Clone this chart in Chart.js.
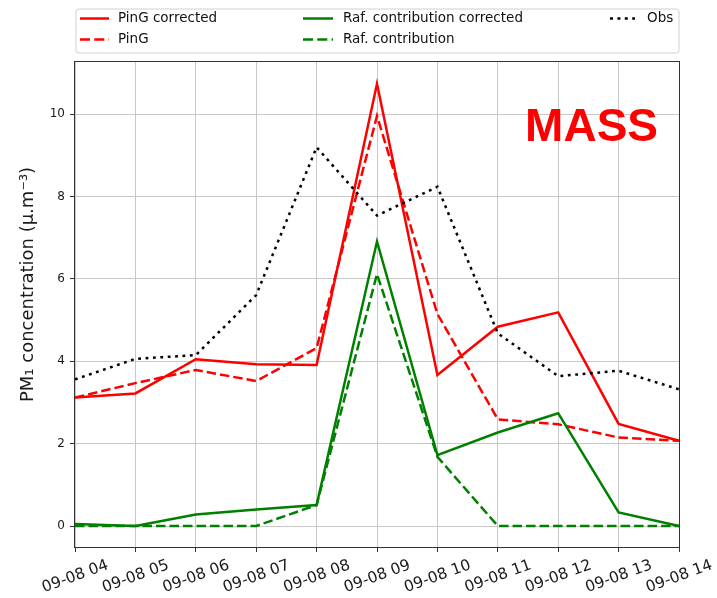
<!DOCTYPE html>
<html><head><meta charset="utf-8">
<script src="https://cdn.jsdelivr.net/npm/chart.js@4"></script>
<style>html,body{margin:0;padding:0;background:#fff}#wrap{width:717px;height:598px}</style>
</head><body><div id="wrap"><canvas id="c" width="717" height="598"></canvas></div>
<script>
const categories = ["09-08 04","09-08 05","09-08 06","09-08 07","09-08 08","09-08 09","09-08 10","09-08 11","09-08 12","09-08 13","09-08 14"];
const yTickValues = [0, 2, 4, 6, 8, 10];
const pingCorrected = [3.12, 3.22, 4.05, 3.93, 3.91, 10.74, 3.67, 4.84, 5.19, 2.48, 2.07];
const ping = [3.12, 3.47, 3.79, 3.52, 4.32, 9.96, 5.15, 2.59, 2.47, 2.15, 2.07];
const rafCorrected = [0.05, 0.0, 0.28, 0.40, 0.51, 6.91, 1.72, 2.27, 2.74, 0.33, 0.0];
const raf = [0.0, 0.0, 0.0, 0.0, 0.51, 6.12, 1.68, 0.0, 0.0, 0.0, 0.0];
const obs = [3.56, 4.06, 4.15, 5.61, 9.20, 7.54, 8.24, 4.68, 3.64, 3.77, 3.32];
const seriesLabels = ["PinG corrected", "PinG", "Raf. contribution corrected", "Raf. contribution", "Obs"];
const yTitle = "PM\u2081 concentration (\u03bc.m\u207b\u00b3)";
const annotationText = "MASS";

Chart.defaults.font.family = '"DejaVu Sans", sans-serif';

const RED = '#ff0000', GREEN = '#008000', BLACK = '#000000';
const DASH = [9.5, 4], DOT = [2.8, 4.6];

const customPlugin = {
  id: 'custom',
  afterDatasetsDraw(chart) {
    const ctx = chart.ctx, a = chart.chartArea;
    ctx.save();
    ctx.strokeStyle = '#333';
    ctx.lineWidth = 1;
    ctx.strokeRect(Math.round(a.left) - 0.5, Math.round(a.top) - 0.5, Math.round(a.right - a.left) + 1, Math.round(a.bottom - a.top) + 1);
    ctx.fillStyle = RED;
    ctx.font = 'bold 46px "Liberation Sans", Arial, sans-serif';
    ctx.textAlign = 'right';
    ctx.textBaseline = 'alphabetic';
    ctx.fillText(annotationText, a.right - 21, a.top + 79);
    ctx.restore();
  },
  afterDraw(chart) {
    const ctx = chart.ctx;
    ctx.save();
    const bx = 76, by = 9, bw = 603, bh = 44, r = 3;
    ctx.beginPath();
    ctx.moveTo(bx + r, by);
    ctx.arcTo(bx + bw, by, bx + bw, by + bh, r);
    ctx.arcTo(bx + bw, by + bh, bx, by + bh, r);
    ctx.arcTo(bx, by + bh, bx, by, r);
    ctx.arcTo(bx, by, bx + bw, by, r);
    ctx.closePath();
    ctx.fillStyle = 'rgba(255,255,255,0.8)';
    ctx.fill();
    ctx.strokeStyle = '#d0d0d0';
    ctx.lineWidth = 1;
    ctx.stroke();
    const slots = [
      {x: 80, len: 29, tx: 118, y: 18.5},
      {x: 80, len: 29, tx: 118, y: 39.5},
      {x: 303, len: 30, tx: 343, y: 18.5},
      {x: 303, len: 30, tx: 343, y: 39.5},
      {x: 610, len: 25, tx: 647, y: 18.5}
    ];
    ctx.font = '13.5px "DejaVu Sans", sans-serif';
    ctx.textBaseline = 'middle';
    ctx.textAlign = 'left';
    chart.data.datasets.forEach((ds, i) => {
      const s = slots[i];
      ctx.beginPath();
      ctx.setLineDash(ds.borderDash === DASH ? [10, 4.3] : (ds.borderDash === DOT ? [3, 4.4] : []));
      ctx.strokeStyle = ds.borderColor;
      ctx.lineWidth = 2.5;
      ctx.moveTo(s.x, s.y);
      ctx.lineTo(s.x + s.len, s.y);
      ctx.stroke();
      ctx.setLineDash([]);
      ctx.fillStyle = '#111';
      ctx.fillText(ds.label, s.tx, s.y);
    });
    ctx.restore();
  }
};

function mk(label, data, color, dash, order) {
  return {label, data, borderColor: color, backgroundColor: color, borderWidth: 2.5,
    borderDash: dash, pointRadius: 0, fill: false, tension: 0, order};
}

new Chart(document.getElementById('c'), {
  type: 'line',
  data: {
    labels: categories,
    datasets: [
      mk(seriesLabels[0], pingCorrected, RED, [], 5),
      mk(seriesLabels[1], ping, RED, DASH, 4),
      mk(seriesLabels[2], rafCorrected, GREEN, [], 3),
      mk(seriesLabels[3], raf, GREEN, DASH, 2),
      mk(seriesLabels[4], obs, BLACK, DOT, 1)
    ]
  },
  options: {
    responsive: false,
    animation: false,
    devicePixelRatio: 1,
    layout: {padding: {top: 62, right: 38, bottom: 0, left: 0}},
    plugins: {legend: {display: false}, tooltip: {enabled: false}},
    scales: {
      x: {
        type: 'category', offset: false,
        grid: {color: '#c8c8c8', lineWidth: 1, tickColor: '#333', tickLength: 5, tickWidth: 1},
        border: {display: false},
        ticks: {autoSkip: false, minRotation: 20, maxRotation: 20, font: {size: 15.5}, color: '#1a1a1a', padding: 4, labelOffset: 33},
        afterFit(s) { s.height = 51; s.paddingLeft = 0; s.paddingRight = 0; }
      },
      y: {
        min: -0.51, max: 11.27,
        afterBuildTicks(s) { s.ticks = yTickValues.map(v => ({value: v})); },
        grid: {color: '#c8c8c8', lineWidth: 1, tickColor: '#333', tickLength: 5, tickWidth: 1},
        border: {display: false},
        ticks: {font: {size: 12}, color: '#1a1a1a', padding: 5},
        title: {display: true, text: '\u00a0'.repeat(7) + yTitle, font: {size: 18}, color: '#1a1a1a', padding: {top: 18, bottom: 0}},
        afterFit(s) { s.width = 75; s.paddingTop = 0; s.paddingBottom = 0; }
      }
    }
  },
  plugins: [customPlugin]
});
</script>
</body></html>
